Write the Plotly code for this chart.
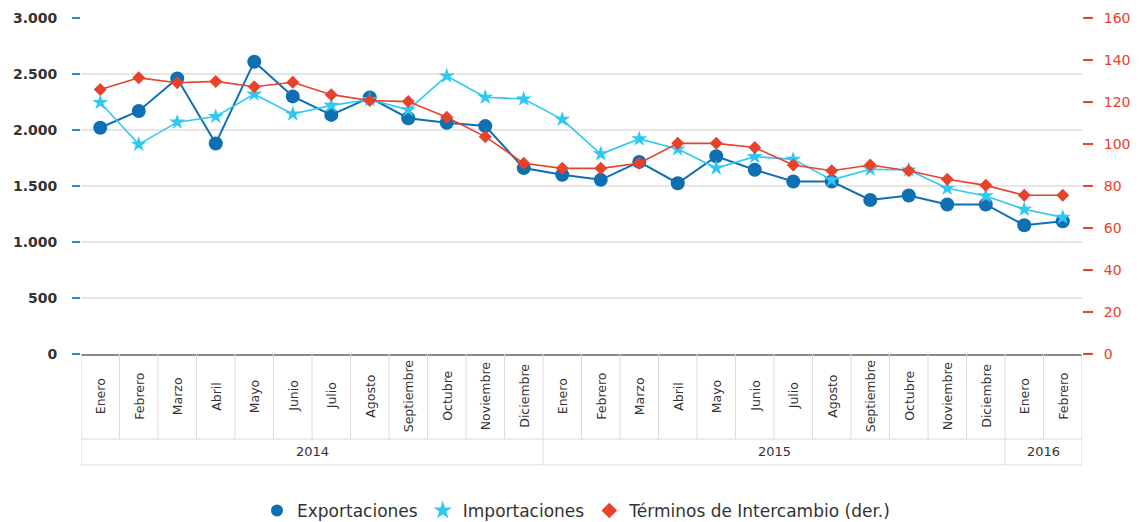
import plotly.graph_objects as go

months = ["Enero", "Febrero", "Marzo", "Abril", "Mayo", "Junio", "Julio", "Agosto",
          "Septiembre", "Octubre", "Noviembre", "Diciembre",
          "Enero", "Febrero", "Marzo", "Abril", "Mayo", "Junio", "Julio", "Agosto",
          "Septiembre", "Octubre", "Noviembre", "Diciembre",
          "Enero", "Febrero"]
years = ["2014"] * 12 + ["2015"] * 12 + ["2016"] * 2

exportaciones = [2020, 2170, 2460, 1880, 2610, 2300, 2135, 2290, 2105, 2065, 2035, 1660,
                 1600, 1555, 1715, 1525, 1765, 1645, 1540, 1540, 1375, 1415, 1335, 1335,
                 1150, 1185]
importaciones = [2245, 1872, 2070, 2120, 2320, 2143, 2220, 2272, 2180, 2482, 2292, 2277,
                 2095, 1786, 1920, 1830, 1660, 1762, 1738, 1555, 1650, 1643, 1480, 1411,
                 1292, 1220]
terminos = [126.0, 131.5, 129.2, 129.8, 127.3, 129.4, 123.5, 120.7, 120.2, 112.7, 103.5, 90.8,
            88.4, 88.4, 90.8, 100.3, 100.3, 98.3, 90.0, 87.3, 90.0, 87.3, 83.2, 80.3,
            75.6, 75.6]

left_ticks = [0, 500, 1000, 1500, 2000, 2500, 3000]
right_ticks = [0, 20, 40, 60, 80, 100, 120, 140, 160]

BLUE = "#0f6fb3"
CYAN = "#2ec8f2"
RED = "#e8412c"
FONT = "DejaVu Sans"

x = list(range(len(months)))

fig = go.Figure()
fig.add_trace(go.Scatter(x=x, y=exportaciones, mode="lines+markers", name="Exportaciones",
                         line=dict(color=BLUE, width=2),
                         marker=dict(symbol="circle", size=14, color=BLUE),
                         showlegend=False))
fig.add_trace(go.Scatter(x=x, y=importaciones, mode="lines+markers", name="Importaciones",
                         line=dict(color=CYAN, width=1.6),
                         marker=dict(symbol="star", size=12, color=CYAN),
                         showlegend=False))
fig.add_trace(go.Scatter(x=x, y=terminos, mode="lines+markers", name="Términos de Intercambio (der.)",
                         line=dict(color=RED, width=1.6),
                         marker=dict(symbol="diamond", size=10, color=RED),
                         yaxis="y2", showlegend=False))

# legend-only entries (markers only, as in the reference)
for nm, col, sym, sz in [("Exportaciones", BLUE, "circle", 12),
                         ("Importaciones", CYAN, "star", 14),
                         ("Términos de Intercambio (der.)", RED, "diamond", 12)]:
    fig.add_trace(go.Scatter(x=[None], y=[None], mode="markers", name=nm,
                             marker=dict(symbol=sym, size=sz, color=col)))

# category table below the x axis
row1 = -0.253
row2 = -0.330
shapes = []
grid_col = "#dcdcdc"
for i in range(len(months) + 1):
    shapes.append(dict(type="line", xref="x", yref="paper", x0=i - 0.5, x1=i - 0.5,
                       y0=0, y1=row1, line=dict(color=grid_col, width=1)))
bounds = [-0.5]
for i in range(1, len(years)):
    if years[i] != years[i - 1]:
        bounds.append(i - 0.5)
bounds.append(len(years) - 0.5)
for b in bounds:
    shapes.append(dict(type="line", xref="x", yref="paper", x0=b, x1=b,
                       y0=row1, y1=row2, line=dict(color=grid_col, width=1)))
for yy in (row1, row2):
    shapes.append(dict(type="line", xref="x", yref="paper", x0=-0.5, x1=len(months) - 0.5,
                       y0=yy, y1=yy, line=dict(color=grid_col, width=1)))

annotations = []
for i, m in enumerate(months):
    annotations.append(dict(x=i, y=-0.125, xref="x", yref="paper", text=m, textangle=-90,
                            showarrow=False, xanchor="center", yanchor="middle",
                            font=dict(family=FONT, size=12.5, color="#333333")))
for j in range(len(bounds) - 1):
    idx = int(bounds[j] + 0.5)
    annotations.append(dict(x=(bounds[j] + bounds[j + 1]) / 2, y=(row1 + row2) / 2,
                            xref="x", yref="paper", text=years[idx], showarrow=False,
                            xanchor="center", yanchor="middle",
                            font=dict(family=FONT, size=13, color="#333333")))

# the page body adds an 8px offset; margins compensate so the plot sits where the reference's does
fig.update_layout(
    width=1140, height=522,
    margin=dict(l=73, r=66, t=10, b=176, autoexpand=False),
    paper_bgcolor="white", plot_bgcolor="white",
    separators=",.",
    shapes=shapes, annotations=annotations,
    showlegend=True,
    legend=dict(orientation="h", x=0.495, xanchor="center", y=-0.467, yanchor="middle",
                font=dict(family=FONT, size=17, color="#333333"), itemsizing="trace"),
    xaxis=dict(range=[-0.5, len(months) - 0.5], showticklabels=False, showgrid=False,
               zeroline=False, showline=True, linecolor="#8a8a8a", linewidth=2, ticks="",
               automargin=False),
    yaxis=dict(range=[0, 3000], tickvals=left_ticks, tickformat=",d", automargin=False,
               showgrid=True, gridcolor="#e6e6e6", gridwidth=1.5, zeroline=False,
               showline=False, ticks="outside", ticklen=8, tickcolor="#2b8fd6", tickwidth=2,
               ticklabelstandoff=12,
               tickfont=dict(family=FONT, size=14, color="#333333", weight=600)),
    yaxis2=dict(range=[0, 160], tickvals=right_ticks, overlaying="y", side="right",
                automargin=False,
                showgrid=False, zeroline=False, showline=False, ticks="outside", ticklen=10,
                tickcolor="#e8412c", tickwidth=2, ticklabelstandoff=8,
                tickfont=dict(family=FONT, size=14, color="#e8412c")),
)

fig.write_html("out.html")
